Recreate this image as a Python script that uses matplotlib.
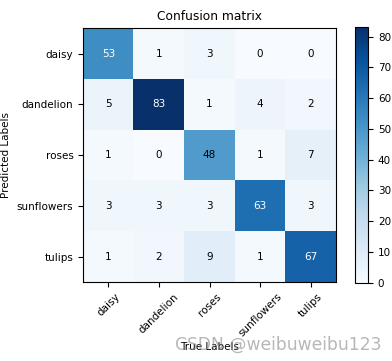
import matplotlib
matplotlib.use("Agg")
import matplotlib.pyplot as plt
import numpy as np

classes = ["daisy", "dandelion", "roses", "sunflowers", "tulips"]
row_daisy = [53, 1, 3, 0, 0]
row_dandelion = [5, 83, 1, 4, 2]
row_roses = [1, 0, 48, 1, 7]
row_sunflowers = [3, 3, 3, 63, 3]
row_tulips = [1, 2, 9, 1, 67]
matrix = np.array([row_daisy, row_dandelion, row_roses, row_sunflowers, row_tulips])

plt.rcParams['font.size'] = 7.5
fig = plt.figure(figsize=(3.92, 3.61), dpi=100)
ax = fig.add_axes([0.212, 0.219, 0.645, 0.703])
cax = fig.add_axes([0.906, 0.217, 0.033, 0.707])

im = ax.imshow(matrix, cmap=plt.cm.Blues, aspect='auto')
ax.set_title("Confusion matrix", fontsize=8.8)
cb = fig.colorbar(im, cax=cax)
cb.set_ticks(range(0, 81, 10))
cb.ax.tick_params(labelsize=7.5)

ax.set_xticks(range(len(classes)))
ax.set_xticklabels(classes, rotation=45)
ax.set_yticks(range(len(classes)))
ax.set_yticklabels(classes)
ax.set_xlabel("True Labels", fontsize=7.5, labelpad=2)
ax.set_ylabel("Predicted Labels", fontsize=7.5)

for i in range(matrix.shape[0]):
    for j in range(matrix.shape[1]):
        v = matrix[i, j]
        ax.text(j, i, str(v), ha='center', va='center',
                color='white' if v > 50 else 'black', fontsize=7.5)

fig.text(0.709, 0.045, "CSDN @weibuweibu123", ha='center', va='center',
         fontsize=12.3, color='#888888', alpha=0.6)

fig.savefig("out.png", dpi=100)
